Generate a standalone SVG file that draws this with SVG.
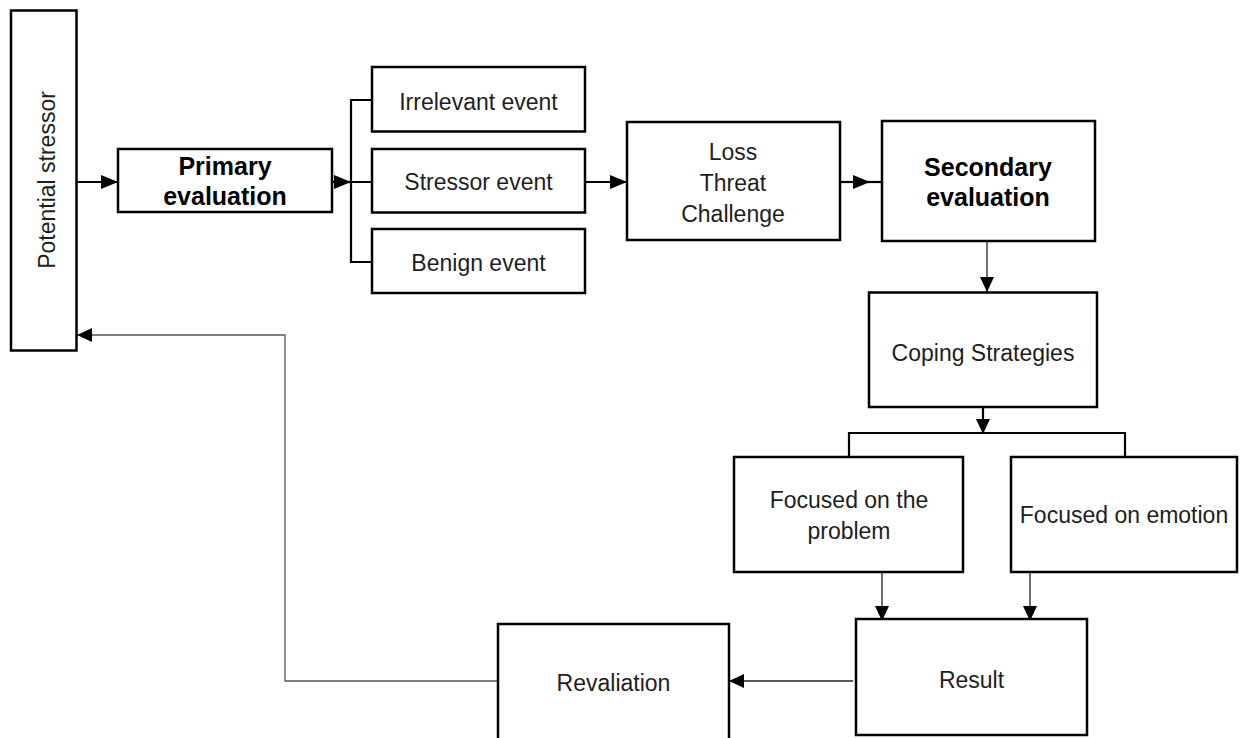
<svg xmlns="http://www.w3.org/2000/svg" width="1250" height="738" viewBox="0 0 1250 738">
<style>
.box{fill:#fff;stroke:#000;stroke-width:2.5}
.t{font-family:"Liberation Sans",Arial,sans-serif;font-size:23px;fill:#1e1e1e;text-anchor:middle}
.b{font-family:"Liberation Sans",Arial,sans-serif;font-size:25px;font-weight:bold;fill:#000;text-anchor:middle}
.thick{fill:none;stroke:#000;stroke-width:2.2}
.thin{fill:none;stroke:#222;stroke-width:1.3}
.gray{fill:none;stroke:#555;stroke-width:1.3}
</style>
<defs>
<marker id="ah" markerUnits="userSpaceOnUse" markerWidth="17" markerHeight="14" refX="17" refY="7" orient="auto">
<path d="M0,0 L17,7 L0,14 z" fill="#000"/>
</marker>
<marker id="as" markerUnits="userSpaceOnUse" markerWidth="15" markerHeight="14" refX="15" refY="7" orient="auto">
<path d="M0,0 L15,7 L0,14 z" fill="#000"/>
</marker>
</defs>
<rect width="1250" height="738" fill="#fff"/>
<g id="connectors">
<line class="thick" x1="77" y1="182" x2="118" y2="182" marker-end="url(#ah)"/>
<line class="thick" x1="324" y1="182" x2="351" y2="182" marker-end="url(#ah)"/>
<path class="thick" d="M372,100 H351 V262 H372 M351,182 H372"/>
<line class="thick" x1="585" y1="182" x2="627" y2="182" marker-end="url(#ah)"/>
<line class="thick" x1="840" y1="182" x2="870" y2="182" marker-end="url(#ah)"/>
<line class="thick" x1="868" y1="182" x2="882" y2="182"/>
<line class="thin" x1="987" y1="241" x2="987" y2="292" marker-end="url(#as)"/>
<line class="thick" x1="983" y1="407" x2="983" y2="434" marker-end="url(#as)"/>
<path class="thick" d="M849,457 V433 H1125 V457"/>
<line class="thin" x1="882" y1="573" x2="882" y2="621" marker-end="url(#as)"/>
<line class="thin" x1="1030" y1="573" x2="1030" y2="621" marker-end="url(#as)"/>
<line class="thin" x1="853" y1="681" x2="729" y2="681" marker-end="url(#as)"/>
<path class="gray" d="M498,681 H285 V335 H77" marker-end="url(#as)"/>
</g>
<g id="potential-stressor">
<rect class="box" x="11" y="10.5" width="65.5" height="340"/>
<text class="t" transform="translate(55,180) rotate(-90)">Potential stressor</text>
</g>
<g id="primary-evaluation">
<rect class="box" x="118" y="149" width="214" height="63"/>
<text class="b" x="225" y="175">Primary</text>
<text class="b" x="225" y="205">evaluation</text>
</g>
<g id="irrelevant-event">
<rect class="box" x="372" y="67" width="213" height="64.5"/>
<text class="t" x="478.5" y="110">Irrelevant event</text>
</g>
<g id="stressor-event">
<rect class="box" x="372" y="149" width="213" height="63.5"/>
<text class="t" x="478.5" y="190">Stressor event</text>
</g>
<g id="benign-event">
<rect class="box" x="372" y="229" width="213" height="64"/>
<text class="t" x="478.5" y="271">Benign event</text>
</g>
<g id="loss-threat-challenge">
<rect class="box" x="627" y="122" width="213" height="118"/>
<text class="t" x="733" y="160">Loss</text>
<text class="t" x="733" y="191">Threat</text>
<text class="t" x="733" y="222">Challenge</text>
</g>
<g id="secondary-evaluation">
<rect class="box" x="882" y="121" width="213" height="120"/>
<text class="b" x="988" y="176">Secondary</text>
<text class="b" x="988" y="206">evaluation</text>
</g>
<g id="coping-strategies">
<rect class="box" x="869" y="292.5" width="228" height="114.5"/>
<text class="t" x="983" y="361">Coping Strategies</text>
</g>
<g id="focused-problem">
<rect class="box" x="734" y="457" width="229" height="115"/>
<text class="t" x="849" y="508">Focused on the</text>
<text class="t" x="849" y="539">problem</text>
</g>
<g id="focused-emotion">
<rect class="box" x="1011" y="457" width="226" height="115"/>
<text class="t" x="1124" y="523">Focused on emotion</text>
</g>
<g id="result">
<rect class="box" x="856" y="619" width="231" height="116"/>
<text class="t" x="971.5" y="688">Result</text>
</g>
<g id="revaliation">
<rect class="box" x="498" y="624" width="231" height="130"/>
<text class="t" x="613.5" y="691">Revaliation</text>
</g>
</svg>
